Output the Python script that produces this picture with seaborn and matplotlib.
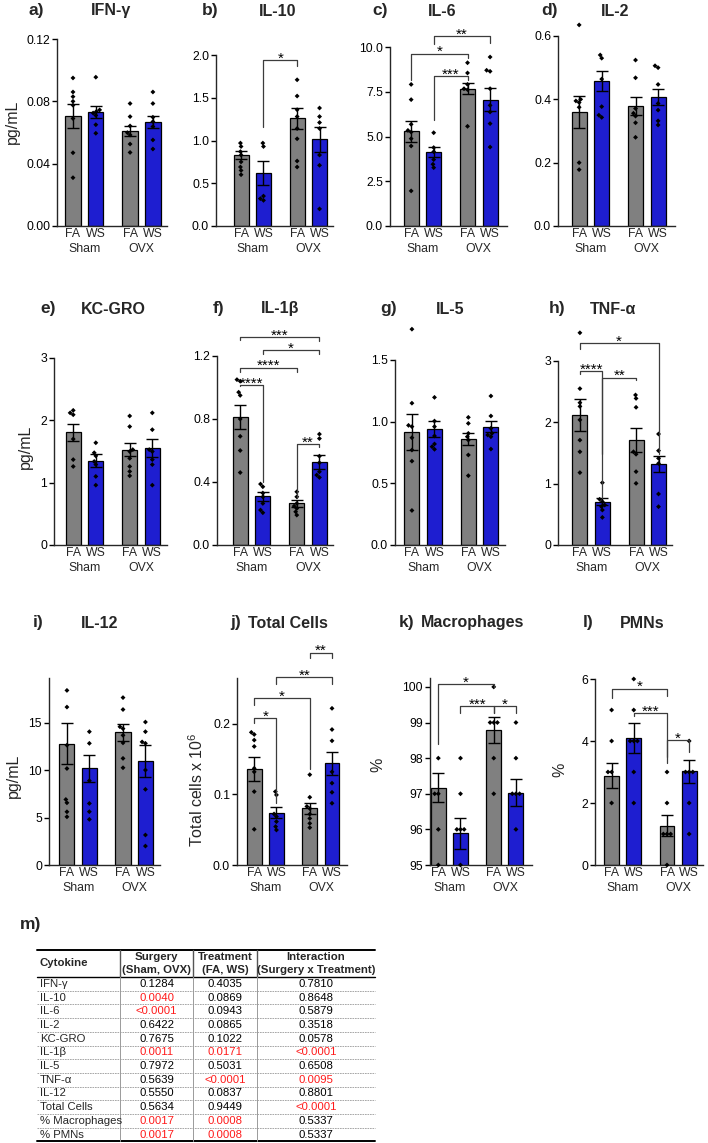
import numpy as np
import pandas as pd
import matplotlib
matplotlib.use("Agg")
import matplotlib.pyplot as plt
import seaborn as sns
from matplotlib.ticker import FormatStrFormatter

# ---------------- data ----------------
SURGERY = ["Sham", "OVX"]
TREATMENT = ["FA", "WS"]
GROUPS = [("Sham", "FA"), ("Sham", "WS"), ("OVX", "FA"), ("OVX", "WS")]
XTICK_LABELS = ["FA", "WS", "FA", "WS"]
BAR_COLORS = {"FA": "#808080", "WS": "#0000EE"}

IFNG_MEAN = [0.0704, 0.0732, 0.0610, 0.0666]
IFNG_SEM = [0.0076, 0.0039, 0.0030, 0.0039]
IFNG_PTS = [[0.095, 0.086, 0.083, 0.080, 0.0775, 0.069, 0.047, 0.031],
            [0.0955, 0.0745, 0.0735, 0.0725, 0.071, 0.065, 0.0595],
            [0.0786, 0.0702, 0.0642, 0.0599, 0.0584, 0.0526, 0.0472],
            [0.086, 0.0786, 0.0698, 0.067, 0.0638, 0.0552, 0.0494]]

IL10_MEAN = [0.828, 0.625, 1.258, 1.012]
IL10_SEM = [0.05, 0.14, 0.125, 0.146]
IL10_PTS = [[0.97, 0.93, 0.87, 0.83, 0.75, 0.69, 0.65, 0.60],
            [0.97, 0.93, 0.35, 0.32, 0.30],
            [1.71, 1.52, 1.36, 1.28, 1.14, 1.02, 0.76, 0.69],
            [1.38, 1.28, 1.21, 1.14, 0.83, 0.71, 0.20]]

IL6_MEAN = [5.29, 4.13, 7.67, 7.06]
IL6_SEM = [0.60, 0.28, 0.32, 0.65]
IL6_PTS = [[7.91, 7.06, 5.68, 5.34, 5.25, 4.88, 4.47, 1.96],
           [5.21, 4.38, 4.15, 3.71, 3.45, 3.26],
           [9.12, 8.55, 7.91, 7.67, 7.62, 5.57],
           [9.44, 8.70, 8.64, 7.67, 6.74, 6.37, 5.72, 4.41]]

IL2_MEAN = [0.361, 0.459, 0.379, 0.408]
IL2_SEM = [0.051, 0.032, 0.028, 0.026]
IL2_PTS = [[0.635, 0.40, 0.395, 0.39, 0.375, 0.20, 0.178],
           [0.54, 0.53, 0.464, 0.377, 0.35, 0.343],
           [0.524, 0.468, 0.371, 0.356, 0.347, 0.326, 0.28],
           [0.506, 0.50, 0.447, 0.387, 0.366, 0.332, 0.319]]

KC_MEAN = [1.805, 1.355, 1.527, 1.553]
KC_SEM = [0.142, 0.10, 0.107, 0.14]
KC_PTS = [[2.16, 2.12, 2.09, 1.70, 1.37, 1.26],
          [1.64, 1.48, 1.43, 1.34, 1.29, 1.10, 0.96],
          [2.07, 1.90, 1.53, 1.50, 1.39, 1.26, 1.18, 1.11],
          [2.12, 1.85, 1.53, 1.50, 1.37, 1.29, 0.96]]

IL1B_MEAN = [0.813, 0.31, 0.264, 0.528]
IL1B_SEM = [0.074, 0.028, 0.021, 0.045]
IL1B_PTS = [[1.05, 1.04, 0.97, 0.95, 0.80, 0.69, 0.60, 0.46],
            [0.387, 0.37, 0.33, 0.306, 0.264, 0.222, 0.205],
            [0.338, 0.306, 0.264, 0.247, 0.232, 0.211, 0.19],
            [0.704, 0.676, 0.564, 0.522, 0.465, 0.444, 0.429]]

IL5_MEAN = [0.919, 0.938, 0.859, 0.959]
IL5_SEM = [0.146, 0.065, 0.05, 0.043]
IL5_PTS = [[1.75, 1.15, 0.97, 0.96, 0.87, 0.77, 0.68, 0.28],
           [1.197, 1.005, 0.96, 0.884, 0.819, 0.797, 0.776],
           [1.035, 0.986, 0.905, 0.878, 0.851, 0.73, 0.562],
           [1.208, 1.046, 0.946, 0.905, 0.892, 0.878, 0.778]]

TNF_MEAN = [2.12, 0.707, 1.712, 1.32]
TNF_SEM = [0.255, 0.054, 0.2, 0.13]
TNF_PTS = [[3.46, 2.55, 2.32, 2.26, 2.04, 1.71, 1.52, 1.18],
           [1.016, 0.745, 0.707, 0.652, 0.625, 0.57, 0.45],
           [2.446, 2.39, 2.245, 1.52, 1.48, 1.196, 1.005],
           [1.81, 1.538, 1.413, 1.33, 0.832, 0.625]]

IL12_MEAN = [12.82, 10.2, 14.0, 10.97]
IL12_SEM = [2.14, 1.46, 0.93, 1.66]
IL12_PTS = [[18.44, 16.68, 12.65, 10.19, 6.92, 6.57, 5.62, 5.09],
            [14.08, 12.85, 8.9, 6.5, 5.63, 4.82],
            [17.68, 16.42, 14.6, 14.4, 13.7, 12.9, 11.26, 10.27],
            [15.1, 14.08, 13.0, 12.85, 10.03, 7.99, 3.17, 2.0]]

CELLS_MEAN = [0.136, 0.0742, 0.0804, 0.144]
CELLS_SEM = [0.017, 0.0083, 0.008, 0.0165]
CELLS_PTS = [[0.188, 0.185, 0.177, 0.168, 0.137, 0.132, 0.104, 0.0506],
             [0.104, 0.0993, 0.0723, 0.0686, 0.0615, 0.0544, 0.0496],
             [0.128, 0.096, 0.083, 0.08, 0.072, 0.066, 0.059, 0.053],
             [0.222, 0.192, 0.176, 0.132, 0.116, 0.103, 0.0875]]

MAC_MEAN = [97.17, 95.89, 98.79, 97.03]
MAC_SEM = [0.41, 0.43, 0.36, 0.38]
MAC_PTS = [[98, 97, 97, 96, 95],
           [98, 97, 96, 96, 96, 95],
           [100, 99, 99, 99, 98, 97],
           [99, 98, 97, 97, 97, 96]]

PMN_MEAN = [2.88, 4.09, 1.27, 3.02]
PMN_SEM = [0.41, 0.48, 0.35, 0.37]
PMN_PTS = [[5, 4, 3, 3, 2],
           [6, 5, 4, 4, 4, 3, 2],
           [3, 2, 1, 1, 1, 0],
           [4, 3, 3, 3, 2, 1]]

# significance brackets: (bar i, bar j, line height, left leg end, right leg end, label)
IL10_SIG = [(1, 2, 1.94, 1.16, 1.875, "*")]
IL6_SIG = [(1, 3, 10.6, 10.15, 10.2, "**"), (0, 2, 9.63, 8.14, 9.4, "*"),
           (1, 2, 8.36, 5.9, 8.17, "***")]
IL1B_SIG = [(0, 3, 1.32, 1.30, 1.297, "***"), (1, 3, 1.236, 1.215, 1.215, "*"),
            (0, 2, 1.126, 1.10, 1.10, "****"), (0, 1, 1.014, 1.01, 0.40, "****"),
            (2, 3, 0.64, 0.296, 0.623, "**")]
TNF_SIG = [(0, 3, 3.29, 3.19, 1.48, "*"), (0, 1, 2.84, 2.78, 0.76, "****"),
           (1, 2, 2.73, 1.49, 2.69, "**")]
CELLS_SIG = [(2, 3, 0.301, 0.293, 0.293, "**"), (1, 3, 0.266, 0.257, 0.257, "**"),
             (0, 2, 0.236, 0.227, 0.136, "*"), (0, 1, 0.208, 0.201, 0.0875, "*")]
MAC_SIG = [(0, 2, 100.07, 98.41, 100.0, "*"), (1, 2, 99.46, 99.27, 99.27, "***"),
           (2, 3, 99.46, 99.27, 99.27, "*")]
PMN_SIG = [(0, 2, 5.69, 5.39, 5.44, "*"), (1, 2, 4.9, 4.8, 3.29, "***"),
           (2, 3, 4.02, 3.5, 3.66, "*")]

# ANOVA table
TABLE_HEADER = ["Cytokine", ("Surgery", "(Sham, OVX)"), ("Treatment", "(FA, WS)"),
                ("Interaction", "(Surgery x Treatment)")]
TABLE_ROWS = ["IFN-γ", "IL-10", "IL-6", "IL-2", "KC-GRO", "IL-1β", "IL-5", "TNF-α",
              "IL-12", "Total Cells", "% Macrophages", "% PMNs"]
P_SURGERY = ["0.1284", "0.0040", "<0.0001", "0.6422", "0.7675", "0.0011", "0.7972",
             "0.5639", "0.5550", "0.5634", "0.0017", "0.0017"]
P_TREATMENT = ["0.4035", "0.0869", "0.0943", "0.0865", "0.1022", "0.0171", "0.5031",
               "<0.0001", "0.0837", "0.9449", "0.0008", "0.0008"]
P_INTERACTION = ["0.7810", "0.8648", "0.5879", "0.3518", "0.0578", "<0.0001", "0.6508",
                 "0.0095", "0.8801", "<0.0001", "0.5337", "0.5337"]

# ---------------- style ----------------
sns.set_theme(style="ticks")
plt.rcParams["font.family"] = ["Liberation Sans", "DejaVu Sans"]
plt.rcParams["mathtext.fontset"] = "custom"
plt.rcParams["mathtext.rm"] = "Liberation Sans"
plt.rcParams["mathtext.it"] = "Liberation Sans:italic"
plt.rcParams["mathtext.bf"] = "Liberation Sans:bold"
plt.rcParams["axes.linewidth"] = 1.0

FIG_W, FIG_H = 708, 1143
fig = plt.figure(figsize=(FIG_W / 100, FIG_H / 100), dpi=100)
fig.patch.set_facecolor("white")


def fx(x):
    return x / FIG_W


def fy(y):
    return 1 - y / FIG_H


def px_axes(left, top, right, bottom):
    return fig.add_axes([fx(left), fy(bottom), (right - left) / FIG_W, (bottom - top) / FIG_H])


PANELS = [
    dict(lab="a)", title="IFN-γ", mean=IFNG_MEAN, sem=IFNG_SEM, pts=IFNG_PTS, sig=[],
         box=(57, 39, 167, 226), xlim=(-0.48, 1.447), ylim=(0, 0.12),
         yticks=[0, 0.04, 0.08, 0.12], fmt="%.2f", lab_x=28, title_x=111, row_y=11,
         ylab="pg/mL", ylab_xy=(12, 122)),
    dict(lab="b)", title="IL-10", mean=IL10_MEAN, sem=IL10_SEM, pts=IL10_PTS, sig=IL10_SIG,
         box=(216, 55, 333, 226), xlim=(-0.647, 1.44), ylim=(0, 2.0),
         yticks=[0, 0.5, 1.0, 1.5, 2.0], fmt="%.1f", lab_x=202, title_x=278, row_y=11),
    dict(lab="c)", title="IL-6", mean=IL6_MEAN, sem=IL6_SEM, pts=IL6_PTS, sig=IL6_SIG,
         box=(390, 47, 507, 226), xlim=(-0.575, 1.5), ylim=(0, 10),
         yticks=[0, 2.5, 5.0, 7.5, 10.0], fmt="%.1f", lab_x=372, title_x=442, row_y=11),
    dict(lab="d)", title="IL-2", mean=IL2_MEAN, sem=IL2_SEM, pts=IL2_PTS, sig=[],
         box=(558, 36, 675, 226), xlim=(-0.575, 1.5), ylim=(0, 0.6),
         yticks=[0, 0.2, 0.4, 0.6], fmt="%.1f", lab_x=541, title_x=615, row_y=11),
    dict(lab="e)", title="KC-GRO", mean=KC_MEAN, sem=KC_SEM, pts=KC_PTS, sig=[],
         box=(54, 358, 167, 545), xlim=(-0.54, 1.46), ylim=(0, 3),
         yticks=[0, 1, 2, 3], fmt="%d", lab_x=40, title_x=113, row_y=309,
         ylab="pg/mL", ylab_xy=(25, 447)),
    dict(lab="f)", title="IL-1β", mean=IL1B_MEAN, sem=IL1B_SEM, pts=IL1B_PTS, sig=IL1B_SIG,
         box=(217, 356, 333, 545), xlim=(-0.61, 1.44), ylim=(0, 1.2),
         yticks=[0, 0.4, 0.8, 1.2], fmt="%.1f", lab_x=213, title_x=280, row_y=309),
    dict(lab="g)", title="IL-5", mean=IL5_MEAN, sem=IL5_SEM, pts=IL5_PTS, sig=[],
         box=(395, 360, 505, 545), xlim=(-0.5, 1.45), ylim=(0, 1.5),
         yticks=[0, 0.5, 1.0, 1.5], fmt="%.1f", lab_x=380, title_x=450, row_y=309),
    dict(lab="h)", title="TNF-α", mean=TNF_MEAN, sem=TNF_SEM, pts=TNF_PTS, sig=TNF_SIG,
         box=(558, 361, 672, 545), xlim=(-0.59, 1.44), ylim=(0, 3),
         yticks=[0, 1, 2, 3], fmt="%d", lab_x=549, title_x=613, row_y=309),
    dict(lab="i)", title="IL-12", mean=IL12_MEAN, sem=IL12_SEM, pts=IL12_PTS, sig=[],
         box=(49, 678, 160, 865), xlim=(-0.52, 1.46), ylim=(0, 19.75),
         yticks=[0, 5, 10, 15], fmt="%d", lab_x=33, title_x=100, row_y=623,
         ylab="pg/mL", ylab_xy=(13, 776)),
    dict(lab="j)", title="Total Cells", mean=CELLS_MEAN, sem=CELLS_SEM, pts=CELLS_PTS,
         sig=CELLS_SIG, box=(237, 678, 347, 865), xlim=(-0.51, 1.47), ylim=(0, 0.265),
         yticks=[0, 0.1, 0.2], fmt="%.1f", lab_x=230, title_x=288, row_y=623,
         ylab=r"Total cells x 10$^{\mathrm{6}}$", ylab_xy=(197, 790)),
    dict(lab="k)", title="Macrophages", mean=MAC_MEAN, sem=MAC_SEM, pts=MAC_PTS, sig=MAC_SIG,
         box=(430, 678, 532, 865), xlim=(-0.35, 1.49), ylim=(95, 100.25),
         yticks=[95, 96, 97, 98, 99, 100], fmt="%d", lab_x=399, title_x=473, row_y=623,
         ylab="%", ylab_xy=(378, 765)),
    dict(lab="l)", title="PMNs", mean=PMN_MEAN, sem=PMN_SEM, pts=PMN_PTS, sig=PMN_SIG,
         box=(595, 679, 703, 865), xlim=(-0.50, 1.45), ylim=(0, 6),
         yticks=[0, 2, 4, 6], fmt="%d", lab_x=583, title_x=642, row_y=623,
         ylab="%", ylab_xy=(560, 770)),
]

BRACKET_COLOR = "#3c3c3c"
TICK_FS = 8.8


def draw_panel(p):
    ax = px_axes(*p["box"])
    bar_df = pd.DataFrame([dict(surgery=s, treatment=t, value=p["mean"][k])
                           for k, (s, t) in enumerate(GROUPS)])
    sns.barplot(data=bar_df, x="surgery", y="value", hue="treatment", order=SURGERY,
                hue_order=TREATMENT, palette=BAR_COLORS, width=0.8, gap=0.33,
                edgecolor="black", linewidth=0.9, errorbar=None, legend=False, ax=ax,
                zorder=2)
    bars = sorted(ax.patches, key=lambda b: b.get_x())
    xs = [b.get_x() + b.get_width() / 2 for b in bars]
    hs = [b.get_height() for b in bars]
    ax.errorbar(xs, hs, yerr=p["sem"], fmt="none", ecolor="black", elinewidth=1.0,
                capsize=4.3, capthick=1.0, zorder=4)
    pts_df = pd.DataFrame([dict(surgery=s, treatment=t, value=v)
                           for k, (s, t) in enumerate(GROUPS) for v in p["pts"][k]])
    sns.swarmplot(data=pts_df, x="surgery", y="value", hue="treatment", order=SURGERY,
                  hue_order=TREATMENT, palette={"FA": "black", "WS": "black"}, dodge=True,
                  marker="D", size=2.5, linewidth=0, legend=False, ax=ax, zorder=5,
                  clip_on=False, warn_thresh=1.0)
    ax.set_xlim(*p["xlim"])
    ax.set_ylim(*p["ylim"])
    ax.set_yticks(p["yticks"])
    ax.yaxis.set_major_formatter(FormatStrFormatter(p["fmt"]))
    ax.set_xticks(xs, labels=XTICK_LABELS, minor=True)
    ax.tick_params(axis="x", which="major", length=0, pad=12.0, labelsize=TICK_FS)
    ax.tick_params(axis="x", which="minor", length=0, pad=1.2, labelsize=TICK_FS)
    ax.tick_params(axis="y", length=3.5, width=1.0, pad=1.5, labelsize=TICK_FS,
                   colors="black")
    ax.set_xlabel("")
    ax.set_ylabel("")
    sns.despine(ax=ax)
    ax.set_facecolor("none")
    for (i, j, y, yl, yr, lab) in p["sig"]:
        x1, x2 = xs[i], xs[j]
        ax.plot([x1, x1, x2, x2], [yl, y, y, yr], color=BRACKET_COLOR, lw=0.9,
                clip_on=False, zorder=6)
        ax.annotate(lab, xy=((x1 + x2) / 2, y), xytext=(0, -1.8), textcoords="offset points",
                    ha="center", va="baseline", fontsize=11, color="black",
                    annotation_clip=False)
    fig.text(fx(p["lab_x"]), fy(p["row_y"]), p["lab"], fontsize=12.5, fontweight="bold",
             ha="left", va="center")
    fig.text(fx(p["title_x"]), fy(p["row_y"]), p["title"], fontsize=11.5, fontweight="bold",
             ha="center", va="center")
    if "ylab" in p:
        fig.text(fx(p["ylab_xy"][0]), fy(p["ylab_xy"][1]), p["ylab"], fontsize=11.5,
                 rotation=90, ha="center", va="center")


# table overlay
tab = fig.add_axes([0, 0, 1, 1], zorder=-1)
tab.set_xlim(0, FIG_W)
tab.set_ylim(FIG_H, 0)
tab.axis("off")

for p in PANELS:
    draw_panel(p)

fig.text(fx(20), fy(925), "m)", fontsize=12.5, fontweight="bold", ha="left", va="center")

T_LEFT, T_RIGHT = 37, 375
COL_X = [T_LEFT, 120, 193, 257, T_RIGHT]
T_TOP, T_HEAD = 950, 977
ROW_H = 13.7
T_BOTTOM = T_HEAD + ROW_H * len(TABLE_ROWS)
TAB_FS = 8.2
RED = "#FF1A1A"

tab.plot([T_LEFT, T_RIGHT], [T_TOP, T_TOP], color="black", lw=1.4)
tab.plot([T_LEFT, T_RIGHT], [T_HEAD, T_HEAD], color="black", lw=1.0)
tab.plot([T_LEFT, T_RIGHT], [T_BOTTOM, T_BOTTOM], color="black", lw=1.4)
for k in range(1, len(TABLE_ROWS)):
    yy = T_HEAD + ROW_H * k
    tab.plot([T_LEFT, T_RIGHT], [yy, yy], color="#9a9a9a", lw=0.6, ls=(0, (2, 1)))
for cx in COL_X[1:4]:
    tab.plot([cx, cx], [T_TOP, T_HEAD], color="#555555", lw=1.0)
    tab.plot([cx, cx], [T_HEAD, T_BOTTOM], color="#9a9a9a", lw=0.7)

head_mid = (T_TOP + T_HEAD) / 2
tab.text(T_LEFT + 3, head_mid, TABLE_HEADER[0], fontsize=TAB_FS, fontweight="bold",
         ha="left", va="center")
for c in range(1, 4):
    cx = (COL_X[c] + COL_X[c + 1]) / 2
    tab.text(cx, head_mid - 6.5, TABLE_HEADER[c][0], fontsize=TAB_FS, fontweight="bold",
             ha="center", va="center")
    tab.text(cx, head_mid + 6.5, TABLE_HEADER[c][1], fontsize=TAB_FS, fontweight="bold",
             ha="center", va="center")


def is_sig(s):
    return s.startswith("<") or float(s) < 0.05


for k, name in enumerate(TABLE_ROWS):
    yy = T_HEAD + ROW_H * (k + 0.5)
    tab.text(T_LEFT + 3, yy, name, fontsize=TAB_FS, ha="left", va="center")
    for c, col in enumerate([P_SURGERY, P_TREATMENT, P_INTERACTION], start=1):
        cx = (COL_X[c] + COL_X[c + 1]) / 2
        val = col[k]
        tab.text(cx, yy, val, fontsize=TAB_FS, ha="center", va="center",
                 color=RED if is_sig(val) else "black")

fig.savefig("out.png", dpi=100, facecolor="white")
